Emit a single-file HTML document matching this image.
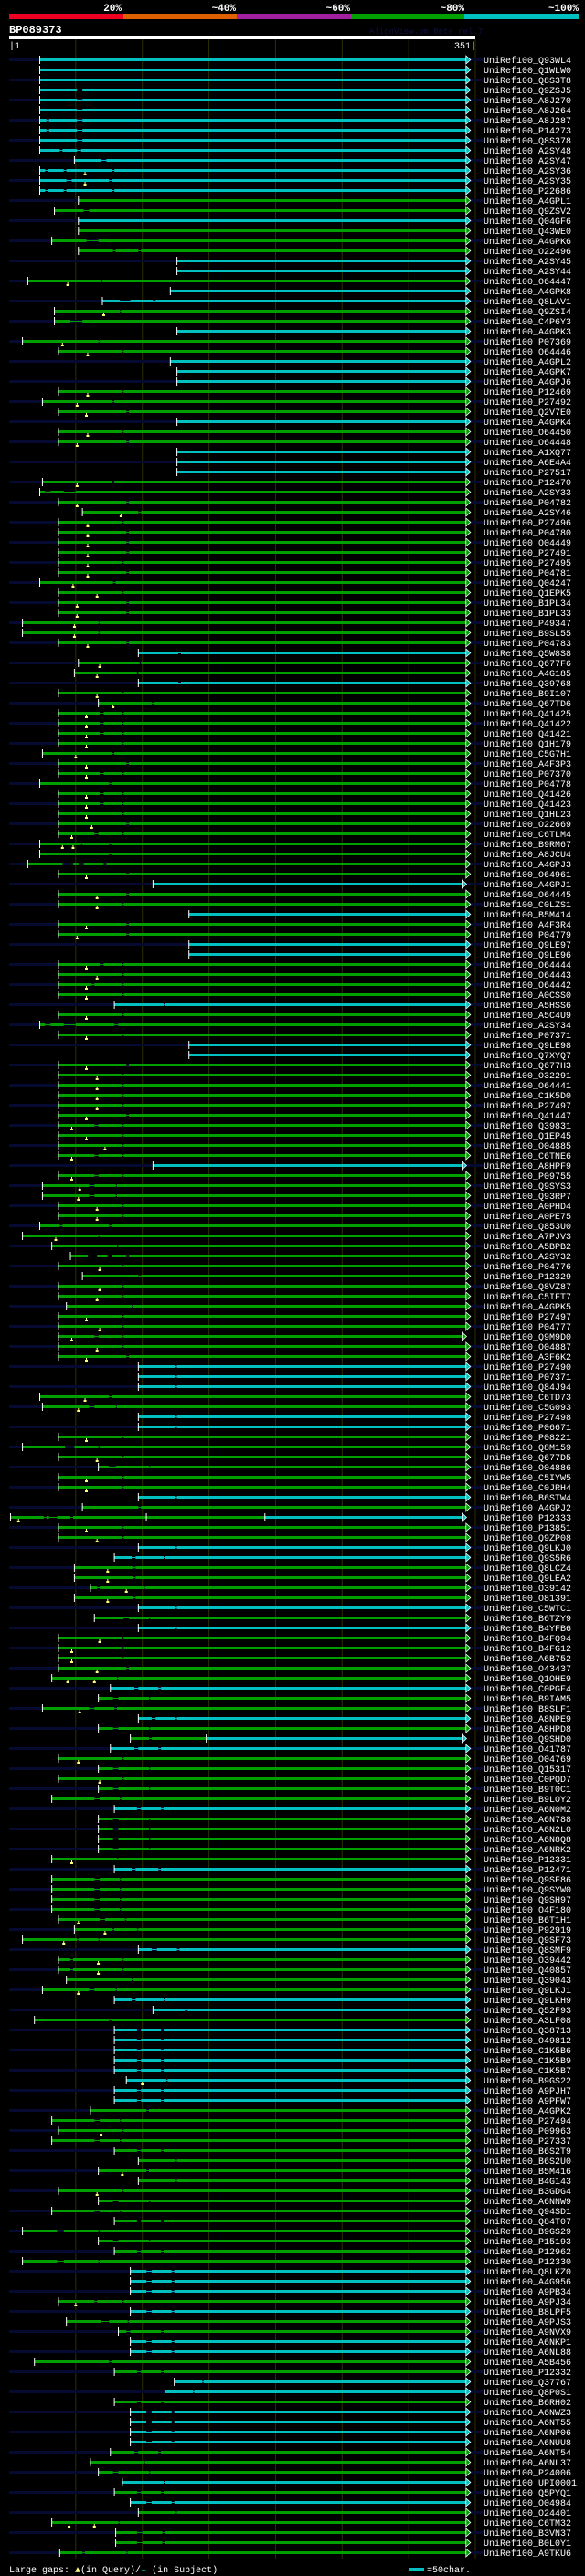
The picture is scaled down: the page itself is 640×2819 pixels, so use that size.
<!DOCTYPE html>
<html><head><meta charset="utf-8"><style>
html,body{margin:0;padding:0;background:#000;}
svg{display:block;}
text{font-family:"Liberation Mono",monospace;}
</style></head><body>
<svg id="chart" width="640" height="2819" viewBox="0 0 640 2819" xmlns="http://www.w3.org/2000/svg">
<rect x="0" y="0" width="640" height="2819" fill="#000"/>
<g>
<text x="133" y="12" fill="#fff" font-size="11" font-weight="bold" text-anchor="end">20%</text>
<text x="258" y="12" fill="#fff" font-size="11" font-weight="bold" text-anchor="end">~40%</text>
<text x="383" y="12" fill="#fff" font-size="11" font-weight="bold" text-anchor="end">~60%</text>
<text x="508" y="12" fill="#fff" font-size="11" font-weight="bold" text-anchor="end">~80%</text>
<text x="633" y="12" fill="#fff" font-size="11" font-weight="bold" text-anchor="end">~100%</text>
<rect x="10" y="15" width="125" height="6" fill="#f00020"/>
<rect x="135" y="15" width="124" height="6" fill="#e06000"/>
<rect x="259" y="15" width="125" height="6" fill="#a020a0"/>
<rect x="384" y="15" width="124" height="6" fill="#00a000"/>
<rect x="508" y="15" width="125" height="6" fill="#00c0c0"/>
</g>
<text x="10" y="36" fill="#fff" font-size="12" font-weight="bold">BP089373</text>
<text x="404" y="37" fill="#101040" font-size="9">AlignView.pm Beta rel.7</text>
<rect x="10" y="39" width="510" height="4" fill="#fff"/>
<text x="10" y="53" fill="#fff" font-size="10">|1</text>
<text x="521" y="53" fill="#fff" font-size="10" text-anchor="end">351|</text>
<g id="grid"></g>
<g id="rows"></g>
<g>
<text x="10" y="2815" fill="#fff" font-size="10">Large gaps: <tspan fill="#ffff80">▲</tspan>(in Query)/<tspan fill="#00c0c0">–</tspan> (in Subject)</text>
<rect x="447" y="2810" width="17" height="3" fill="#00c0c0"/>
<text x="467" y="2815" fill="#fff" font-size="10">=50char.</text>
</g>
</svg>
<script>
const gridTicks = [51,101,151,201,251,301,351];
const hitNames = ["Q93WL4","Q1WLW0","Q8S3T8","Q9ZSJ5","A8J270","A8J264","A8J287","P14273","Q8S378","A2SY48",
"A2SY47","A2SY36","A2SY35","P22686","A4GPL1","Q9ZSV2","Q04GF6","Q43WE0","A4GPK6","O22496",
"A2SY45","A2SY44","O64447","A4GPK8","Q8LAV1","Q9ZSI4","C4P6Y3","A4GPK3","P07369","O64446",
"A4GPL2","A4GPK7","A4GPJ6","P12469","P27492","Q2V7E0","A4GPK4","O64450","O64448","A1XQ77",
"A6E4A4","P27517","P12470","A2SY33","P04782","A2SY46","P27496","P04780","O04449","P27491",
"P27495","P04781","Q04247","Q1EPK5","B1PL34","B1PL33","P49347","B9SL55","P04783","Q5W8S8",
"Q677F6","A4G185","Q39768","B9I107","Q67TD6","Q41425","Q41422","Q41421","Q1H179","C5G7H1",
"A4F3P3","P07370","P04778","Q41426","Q41423","Q1HL23","O22669","C6TLM4","B9RM67","A8JCU4",
"A4GPJ3","O64961","A4GPJ1","O64445","C0LZS1","B5M414","A4F3R4","P04779","Q9LE97","Q9LE96",
"O64444","O64443","O64442","A0CSS0","A5HSS6","A5C4U9","A2SY34","P07371","Q9LE98","Q7XYQ7",
"Q677H3","O32291","O64441","C1K5D0","P27497","Q41447","Q39831","Q1EP45","O04885","C6TNE6",
"A8HPF9","P09755","Q9SYS3","Q93RP7","A0PHD4","A0PE75","Q853U0","A7PJV3","A5BPB2","A2SY32",
"P04776","P12329","Q8VZ87","C5IFT7","A4GPK5","P27497","P04777","Q9M9D0","O04887","A3F6K2",
"P27490","P07371","Q84J94","C6TD73","C5G093","P27498","P06671","P08221","Q8M159","Q677D5",
"O04886","C5IYW5","C0JRH4","B6STW4","A4GPJ2","P12333","P13851","Q9ZP08","Q9LKJ0","Q9S5R6",
"Q8LCZ4","Q9LEA2","O39142","O81391","C5WTC1","B6TZY9","B4YFB6","B4FQ94","B4FG12","A6B752",
"O43437","Q1OHE9","C0PGF4","B9IAM5","B8SLF1","A8NPE9","A8HPD8","Q9SHD0","O41787","O04769",
"Q15317","C0PQD7","B9T0C1","B9LOY2","A6N0M2","A6N788","A6N2L0","A6N8Q8","A6NRK2","P12331",
"P12471","Q9SF86","Q9SYW0","Q9SH97","O4F180","B6T1H1","P92919","Q9SF73","Q8SMF9","O39442",
"Q40857","Q39043","Q9LKJ1","Q9LKH9","Q52F93","A3LF08","Q38713","O49812","C1K5B6","C1K5B9",
"C1K5B7","B9GS22","A9PJH7","A9PFW7","A4GPK2","P27494","P09963","P27337","B6S2T9","B6S2U0",
"B5M416","B4G143","B3GDG4","A6NNW9","Q94SD1","Q84T07","B9GS29","P15193","P12962","P12330",
"Q8LKZ0","A4G956","A9PB34","A9PJ34","B8LPF5","A9PJS3","A9NVX9","A6NKP1","A6NL88","A5B456",
"P12332","Q37767","Q8P0S1","B6RH02","A6NWZ3","A6NT55","A6NP06","A6NUU8","A6NT54","A6NL37",
"P24006","UPI0001","Q5PYQ1","O04984","O24401","C6TM32","B3VN37","B0L0Y1","A9TKU6"];
const hitStart = [24,24,24,24,24,24,24,24,24,24,
50,24,24,24,53,35,53,53,33,53,
127,127,15,122,71,35,35,127,11,38,
122,127,127,38,26,38,127,38,38,127,
127,127,26,24,38,56,38,38,38,38,
38,38,24,38,38,38,11,11,38,98,
53,50,98,38,68,38,38,38,38,26,
38,38,24,38,38,38,38,38,24,24,
15,38,109,38,38,136,38,38,136,136,
38,38,38,38,80,38,24,38,136,136,
38,38,38,38,38,38,38,38,38,38,
109,38,26,26,38,38,24,11,33,47,
38,56,38,38,44,38,38,38,38,38,
98,98,98,24,26,98,98,38,11,38,
68,38,38,98,56,2,38,38,98,80,
50,50,62,50,98,65,98,38,38,38,
38,33,77,68,26,98,68,92,77,38,
68,38,68,33,80,68,68,68,68,33,
80,33,33,33,33,38,50,11,98,38,
38,44,26,80,109,20,80,80,80,80,
80,89,80,80,62,33,38,33,80,98,
68,98,38,68,33,80,11,68,80,11,
92,92,92,38,92,44,83,92,92,20,
80,125,118,80,92,92,92,92,77,62,
68,86,80,92,98,33,81,81,39];
const hitColor = "cccccccccccccc"+"ggcggg"+"ccgccggcgg"+"cccgggcggc"+"ccgggggggg"+"gggggggggc"+"ggcggggggg"+"gggggggggg"+"ggcggcggcc"+"ggggcgggcc"+"gggggggggg"+"cggggggggg"+"gggggggggg"+"cccggccggg"+"gggcggggcc"+"ggggcgcggg"+"ggcggcggcg"+"ggggcggggg"+"cgggggggcg"+"gggccgcccc"+"ccccgggggg"+"gggggggggg"+"cccgcggccg"+"gccgccccgg"+"gcgcggggg";
const hitGaps = [[],[],[],[[52,56]],[[52,56]],[[52,56]],[[29,31],[52,56]],[[29,31],[52,56]],[[52,56]],[[39,41],[52,55]],
[[70,74]],[[28,30],[42,44],[78,80]],[[44,48],[76,78]],[[28,30],[42,44],[78,80]],[],[[57,61]],[],[],[[59,68]],[[79,81],[98,100]],
[],[],[[70,71]],[],[[84,92],[109,111]],[[84,85]],[[47,56]],[],[[68,69]],[[86,87]],
[],[],[],[[86,87]],[[78,80]],[[89,91]],[],[[86,87]],[[89,91]],[],
[],[],[[78,80]],[[28,32],[42,51]],[[89,91]],[[98,100]],[[86,87]],[[89,91]],[[89,91]],[[89,91]],
[[86,87]],[[89,91]],[[79,81]],[[86,87]],[[89,91]],[[89,91]],[[68,69]],[[68,69]],[[89,91]],[[128,130]],
[[99,100]],[[97,98]],[[128,130]],[[86,87]],[[108,110]],[[69,72],[86,87]],[[69,72],[86,87]],[[69,72],[86,87]],[[86,87]],[[78,80]],
[[89,91]],[[69,72],[86,87]],[[76,78]],[[69,72],[86,87]],[[69,72],[86,87]],[[86,87]],[[89,91]],[[65,68],[86,87]],[[55,56],[76,78]],[[76,78]],
[[41,49],[53,57],[72,74]],[[89,91]],[],[[89,91]],[[86,87]],[],[[89,91]],[[89,91]],[],[],
[[69,72],[86,87]],[[86,87]],[[63,65],[86,87]],[[86,87]],[[117,118]],[[86,87]],[[28,32],[42,51],[80,83]],[[86,87]],[],[],
[[89,91]],[[86,87]],[[86,87]],[[86,87]],[[86,87]],[[89,91]],[[65,68],[86,87]],[[86,87]],[[86,87]],[[65,68],[86,87]],
[],[[65,68],[86,87]],[[61,65],[81,82]],[[61,65],[81,82]],[[86,87]],[[86,87]],[[39,41],[76,78]],[[68,69]],[[82,83]],[[60,67],[75,78],[89,91]],
[[86,87]],[[98,100]],[[86,87]],[[86,87]],[[93,94]],[[86,87]],[[86,87]],[[65,68],[86,87]],[[86,87]],[[89,91]],
[[126,127]],[[126,127]],[[126,127]],[[76,78]],[[61,65],[81,82]],[[126,127]],[[126,127]],[[86,87]],[[43,50],[68,69]],[[86,87]],
[[76,81],[106,107]],[[86,87]],[[86,87]],[[126,127]],[[98,100]],[[27,29],[31,37],[47,49]],[[86,87]],[[86,87]],[[126,127]],[[93,96],[117,118]],
[[94,96]],[[94,96]],[[67,69],[102,103]],[[94,96]],[[126,127]],[[87,91],[106,107]],[[126,127]],[[86,87]],[[86,87]],[[86,87]],
[[89,91]],[[82,83]],[[95,98],[113,115]],[[79,83],[106,107]],[[61,65],[80,82]],[[108,111],[126,127]],[[79,83],[106,107]],[[106,108]],[[95,98],[113,115]],[[86,87]],
[[79,83],[106,107]],[[86,87]],[[79,83],[106,107]],[[65,69],[84,85]],[[97,100],[115,117]],[[79,83],[106,107]],[[79,83],[106,107]],[[79,83],[106,107]],[[79,83],[106,107]],[[82,83]],
[[93,96],[113,115]],[[65,69],[84,85]],[[65,69],[84,85]],[[65,69],[84,85]],[[65,69],[84,85]],[[69,73],[88,89]],[[78,80],[97,98]],[[52,53],[68,69]],[[108,112],[127,129]],[[47,49],[86,87]],
[[47,49],[86,87]],[[93,94]],[[61,65],[81,82]],[[93,96],[117,118]],[[133,135]],[[76,78]],[[97,100],[115,117]],[[97,100],[115,117]],[[97,100],[115,117]],[[97,100],[115,117]],
[[97,100],[115,117]],[[119,120]],[[97,100],[115,117]],[[97,100],[115,117]],[[104,106]],[[65,69],[84,85]],[[86,87]],[[65,69],[84,85]],[[97,100],[115,117]],[[126,127]],
[[104,106]],[[126,127]],[[86,87]],[[79,83],[106,107]],[[65,69],[84,85]],[[97,100],[115,117]],[[37,42],[68,69]],[[79,83],[106,107]],[[97,100],[115,117]],[[37,42],[68,69]],
[[104,108],[123,125]],[[104,108],[123,125]],[[104,108],[123,125]],[[65,67],[86,87]],[[104,108],[123,125]],[[70,76],[90,91]],[[89,92],[115,117]],[[104,108],[123,125]],[[104,108],[123,125]],[[76,78]],
[[97,100],[115,117]],[[146,147]],[[139,140]],[[97,100],[115,117]],[[104,108],[123,125]],[[104,108],[123,125]],[[104,108],[123,125]],[[104,108],[123,125]],[[95,98],[113,115]],[[102,103]],
[[79,83],[106,107]],[[117,118]],[[97,100],[115,117]],[[104,108],[123,125]],[[126,127]],[[83,84]],[[97,101],[116,118]],[[97,101],[116,118]],[[56,58],[89,90]]];
const markRows = [11,12,22,25,28,29,33,34,35,37,38,42,44,45,46,47,48,49,50,51,52,53,54,55,56,57,58,60,61,63,64,65,66,67,68,69,70,71,73,74,75,76,77,78,78,81,83,84,86,87,90,91,92,93,95,97,100,101,102,103,104,105,106,107,108,109,111,112,113,114,115,117,120,122,123,125,126,127,128,129,133,134,137,139,141,142,145,146,147,150,151,152,153,157,158,159,160,161,161,164,169,171,179,185,186,187,189,190,192,201,206,210,212,223,245,245];
const markPos = [58,58,45,72,41,60,60,52,59,60,52,52,52,85,60,60,60,60,60,60,49,67,52,52,50,50,60,69,67,67,79,59,59,59,59,51,59,59,59,59,59,63,48,41,49,59,67,67,59,52,59,67,59,59,59,59,59,67,67,67,67,59,48,59,73,48,48,54,53,67,67,36,69,69,67,59,69,48,67,59,58,53,59,67,59,59,8,59,67,75,75,89,75,69,48,48,67,45,65,54,53,69,48,53,73,42,68,68,53,101,70,86,67,51,46,65];
const shortRows = [82,110,127,145,167];
const switchRows = [145,167];
const switchAt = [193,149];
const extraTickRows = [145];
const extraTickAt = [104];
const fullEnd = 344, shortEnd = 341;

const NS = "http://www.w3.org/2000/svg";
const xs = r => 10 + (r - 1) * 510 / 350;
const ys = i => 65 + i * 11;
const COL = {c:"#00c0c0", g:"#009f00"};
function mk(tag, attrs, parent){ const e=document.createElementNS(NS,tag); for(const k in attrs) e.setAttribute(k,attrs[k]); parent.appendChild(e); return e; }

const grid = document.getElementById("grid");
gridTicks.forEach(t=>{
  const l = mk("line",{x1:xs(t),x2:xs(t),y1:43,y2:2800,stroke:"#2e2e00","stroke-width":1},grid);
  
  
});

const rows = document.getElementById("rows");
hitNames.forEach((nm,i)=>{
  const y = ys(i);
  const g = mk("g",{},rows);
  
  
  if(i%2===0){
    const s = mk("rect",{x:10,y:y-1,width:519,height:3,fill:"#060a30"},g);
    
    
  }
  const st = hitStart[i];
  const en = shortRows.includes(i) ? shortEnd : fullEnd;
  const sw = switchRows.indexOf(i);
  const base = COL[hitColor[i]];
  // breakpoints
  let segs = [];
  let cur = st;
  const gaps = hitGaps[i] || [];
  gaps.forEach(gp=>{ segs.push([cur,gp[0]]); cur = gp[1]; });
  segs.push([cur,en]);
  const colorAt = r => (sw>=0 && r>=switchAt[sw]) ? COL.c : base;
  segs.forEach(sg=>{
    let a=sg[0], b=sg[1];
    if(sw>=0 && a<switchAt[sw] && b>switchAt[sw]){
      const r1 = mk("rect",{x:xs(a),y:y-1,width:xs(switchAt[sw])-xs(a),height:3,fill:base},g);
      
      
      a = switchAt[sw];
    }
    const r = mk("rect",{x:xs(a),y:y-1,width:Math.max(0,xs(b)-xs(a)),height:3,fill:colorAt(a)},g);
    
    
  });
  gaps.forEach(gp=>{
    const l = mk("rect",{x:xs(gp[0]),y:y,width:xs(gp[1])-xs(gp[0]),height:1,fill:colorAt(gp[0])},g);
    
    
  });
  const tk = mk("rect",{x:xs(st)-0.5,y:y-4,width:1,height:9,fill:"#fff"},g);
  
  
  if(sw>=0){
    const t2 = mk("rect",{x:xs(switchAt[sw])-0.5,y:y-4,width:1,height:9,fill:"#fff"},g);
    
    
  }
  const et = extraTickRows.indexOf(i);
  if(et>=0){
    const t3 = mk("rect",{x:xs(extraTickAt[et])-0.5,y:y-4,width:1,height:9,fill:"#fff"},g);
    
    
  }
  const ex = xs(en);
  const ar = mk("polygon",{points:`${ex},${y-4} ${ex+5},${y+0.5} ${ex},${y+5}`,fill:colorAt(en-1),stroke:"#fff","stroke-width":0.8},g);
  
  
  const tx = mk("text",{x:529,y:y+4,fill:"#fff","font-size":10},g);
  tx.textContent = "UniRef100_" + nm;
  
  
});
markRows.forEach((ri,k)=>{
  const y = ys(ri), x = xs(markPos[k]);
  const m = mk("polygon",{points:`${x-0.5},${y+2} ${x+0.5},${y+2} ${x+0.5},${y+4} ${x+1.5},${y+4} ${x+1.5},${y+6} ${x-1.5},${y+6} ${x-1.5},${y+4} ${x-0.5},${y+4}`,fill:"#ffff80"},rows);
  
  
});
</script>
</body></html>
